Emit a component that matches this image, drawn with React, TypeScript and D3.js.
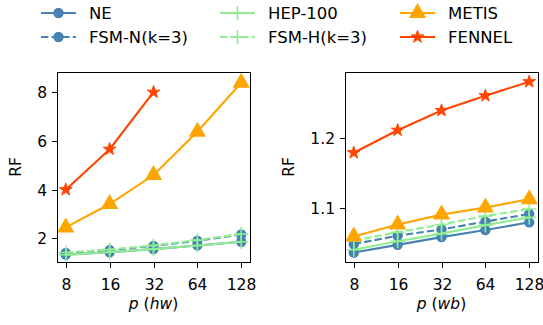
import React, { useRef, useEffect } from "react";
import * as d3 from "d3";

const parts = [8, 16, 32, 64, 128];
const seriesNames = ["NE", "FSM-N(k=3)", "HEP-100", "FSM-H(k=3)", "METIS", "FENNEL"];

// hw dataset
const hwNE = [1.33, 1.43, 1.56, 1.71, 1.86];
const hwFSMN = [1.40, 1.52, 1.69, 1.90, 2.16];
const hwHEP = [1.33, 1.43, 1.56, 1.71, 1.86];
const hwFSMH = [1.42, 1.54, 1.71, 1.93, 2.18];
const hwMETIS = [2.45, 3.41, 4.6, 6.38, 8.39];
const hwFENNEL = [4.0, 5.66, 8.0];

// wb dataset
const wbNE = [1.037, 1.048, 1.059, 1.069, 1.08];
const wbFSMN = [1.049, 1.061, 1.07, 1.081, 1.092];
const wbHEP = [1.041, 1.053, 1.064, 1.076, 1.087];
const wbFSMH = [1.054, 1.066, 1.077, 1.089, 1.099];
const wbMETIS = [1.06, 1.077, 1.091, 1.101, 1.113];
const wbFENNEL = [1.179, 1.211, 1.239, 1.26, 1.28];

const hwTicks = [2, 4, 6, 8];
const wbTicks = [1.1, 1.2];

const styles = [
    { color: "#4682b4", dash: null, marker: "circle" },
    { color: "#4682b4", dash: "7.4,3.2", marker: "circle" },
    { color: "#90ee90", dash: null, marker: "plus" },
    { color: "#90ee90", dash: "7.4,3.2", marker: "plus" },
    { color: "#ffa500", dash: null, marker: "triangle" },
    { color: "#ff4500", dash: null, marker: "star" },
];

const font = "DejaVu Sans";

function drawMarker(g, kind, color, x, y) {
    if (kind === "circle") {
        g.append("circle").attr("cx", x).attr("cy", y).attr("r", 5.2).attr("fill", color);
    } else if (kind === "plus") {
        g.append("path")
            .attr("d", `M${x - 7},${y}H${x + 7}M${x},${y - 7}V${y + 7}`)
            .attr("stroke", color)
            .attr("stroke-width", 1.6)
            .attr("fill", "none");
    } else if (kind === "triangle") {
        g.append("path")
            .attr("d", d3.symbol(d3.symbolTriangle, 130)())
            .attr("transform", `translate(${x},${y})`)
            .attr("fill", color);
    } else {
        g.append("path")
            .attr("d", d3.symbol(d3.symbolStar, 50)())
            .attr("transform", `translate(${x},${y})`)
            .attr("fill", color)
            .attr("stroke", color)
            .attr("stroke-width", 1)
            .attr("stroke-linejoin", "round");
    }
}

export default function App() {
    const ref = useRef(null);

    useEffect(() => {
        const svg = d3.select(ref.current);
        svg.selectAll("*").remove();

        const top = 72;
        const bottom = 262;
        const panels = [
            {
                x0: 57, x1: 250, domain: [1.03, 8.83], ticks: hwTicks, fmt: d3.format("d"),
                data: [hwNE, hwFSMN, hwHEP, hwFSMH, hwMETIS, hwFENNEL], label: "hw", ylabX: 16,
            },
            {
                x0: 345, x1: 538, domain: [1.0236, 1.2938], ticks: wbTicks, fmt: d3.format(".1f"),
                data: [wbNE, wbFSMN, wbHEP, wbFSMH, wbMETIS, wbFENNEL], label: "wb", ylabX: 289,
            },
        ];

        panels.forEach((p) => {
            const x = d3.scaleLog().base(2).domain([Math.pow(2, 2.8), Math.pow(2, 7.2)]).range([p.x0, p.x1]);
            const y = d3.scaleLinear().domain(p.domain).range([bottom, top]);
            const g = svg.append("g");

            const line = d3
                .line()
                .x((d, i) => x(parts[i]))
                .y((d) => y(d));

            p.data.forEach((vals, si) => {
                const s = styles[si];
                g.append("path")
                    .datum(vals)
                    .attr("d", line)
                    .attr("fill", "none")
                    .attr("stroke", s.color)
                    .attr("stroke-width", 2.1)
                    .attr("stroke-dasharray", s.dash);
                vals.forEach((v, i) => drawMarker(g, s.marker, s.color, x(parts[i]), y(v)));
            });

            g.append("rect")
                .attr("x", p.x0 + 0.5)
                .attr("y", top + 0.5)
                .attr("width", p.x1 - p.x0)
                .attr("height", bottom - top)
                .attr("fill", "none")
                .attr("stroke", "#000")
                .attr("stroke-width", 1);

            parts.forEach((t) => {
                const tx = Math.round(x(t)) + 0.5;
                g.append("line").attr("x1", tx).attr("x2", tx).attr("y1", bottom + 1).attr("y2", bottom + 6).attr("stroke", "#000");
                g.append("text")
                    .attr("x", tx).attr("y", 290)
                    .attr("text-anchor", "middle")
                    .attr("font-family", font).attr("font-size", 15.5)
                    .text(t);
            });

            p.ticks.forEach((t) => {
                const ty = Math.round(y(t)) + 0.5;
                g.append("line").attr("x1", p.x0 - 5).attr("x2", p.x0).attr("y1", ty).attr("y2", ty).attr("stroke", "#000");
                g.append("text")
                    .attr("x", p.x0 - 10).attr("y", ty + 5.5)
                    .attr("text-anchor", "end")
                    .attr("font-family", font).attr("font-size", 15.5)
                    .text(p.fmt(t));
            });

            g.append("text")
                .attr("transform", `translate(${p.ylabX + 5},${(top + bottom) / 2}) rotate(-90)`)
                .attr("text-anchor", "middle")
                .attr("font-family", font).attr("font-size", 15.5)
                .text("RF");

            const xl = g.append("text")
                .attr("x", (p.x0 + p.x1) / 2).attr("y", 309)
                .attr("text-anchor", "middle")
                .attr("font-family", font).attr("font-size", 15.5);
            xl.append("tspan").attr("font-style", "italic").text("p");
            xl.append("tspan").text(" (");
            xl.append("tspan").attr("font-style", "italic").text(p.label);
            xl.append("tspan").text(")");
        });

        // legend
        const cols = [41, 220, 400];
        const rows = [13, 37];
        seriesNames.forEach((name, k) => {
            const cx = cols[Math.floor(k / 2)];
            const cy = rows[k % 2];
            const s = styles[k];
            const lg = svg.append("g");
            lg.append("line")
                .attr("x1", cx).attr("x2", cx + 35).attr("y1", cy).attr("y2", cy)
                .attr("stroke", s.color).attr("stroke-width", 2.1)
                .attr("stroke-dasharray", s.dash);
            drawMarker(lg, s.marker, s.color, cx + 17.5, cy);
            lg.append("text")
                .attr("x", cx + 48).attr("y", cy + 6)
                .attr("font-family", font).attr("font-size", 16.5)
                .text(name);
        });
    }, []);

    return <svg ref={ref} width={543} height={325} style={{ position: "absolute", left: 0, top: 0 }}></svg>;
}
